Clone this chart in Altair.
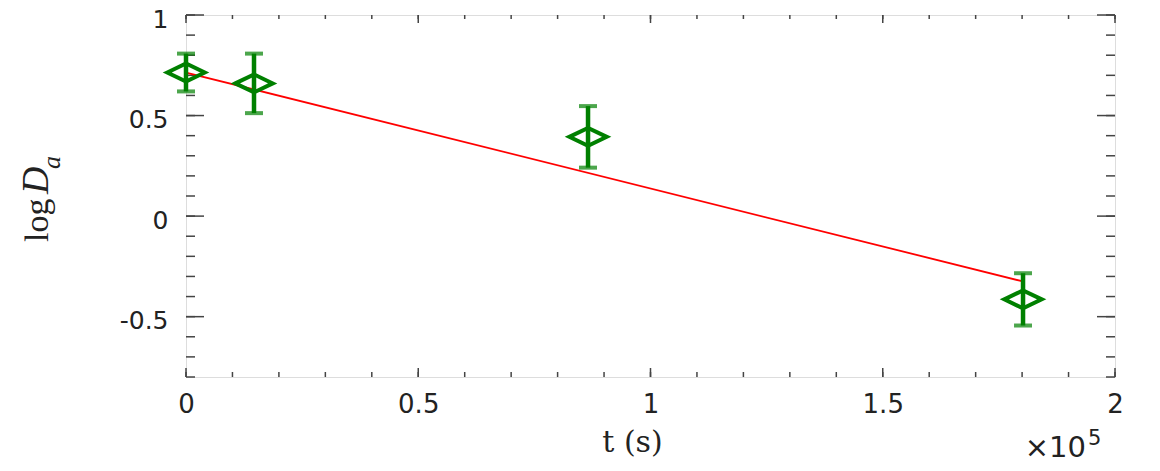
import altair as alt
import pandas as pd

# ---- data ----
t_vals = [0, 14640, 86550, 180200]
logD = [0.714, 0.66, 0.394, -0.414]
err = [0.094, 0.148, 0.153, 0.13]

fit_t = [0, 180200]
fit_y = [0.714, -0.325]

x_major = [0, 50000, 100000, 150000, 200000]
x_major_labels = ["0", "0.5", "1", "1.5", "2"]
x_minor = [0, 10000, 20000, 30000, 40000, 50000, 60000, 70000, 80000, 90000, 100000,
           110000, 120000, 130000, 140000, 150000, 160000, 170000, 180000, 190000, 200000]
y_major = [-0.5, 0, 0.5, 1]
y_major_labels = ["-0.5", "0", "0.5", "1"]
y_minor = [-0.8, -0.7, -0.6, -0.5, -0.4, -0.3, -0.2, -0.1, 0, 0.1, 0.2, 0.3, 0.4,
           0.5, 0.6, 0.7, 0.8, 0.9, 1.0]

W, H = 929, 362
GREEN = "#008000"
AXC = "#444444"

xscale = alt.Scale(domain=[0, 200000], nice=False, zero=False)
yscale = alt.Scale(domain=[-0.8, 1], nice=False, zero=False)

xlab_expr = "%s[indexof(%s, datum.value)]" % (
    "[" + ",".join("'%s'" % s for s in x_major_labels) + "]",
    "[" + ",".join(str(v) for v in x_major) + "]")
ylab_expr = "%s[indexof(%s, datum.value)]" % (
    "[" + ",".join("'%s'" % s for s in y_major_labels) + "]",
    "[" + ",".join(str(v) for v in y_major) + "]")

xax = alt.Axis(values=x_major, labelExpr=xlab_expr, ticks=False, tickSize=0, domain=False,
               grid=False, labelFont="DejaVu Sans", labelFontSize=26, labelColor="#222222",
               labelPadding=14, title="t (s)", titleFont="DejaVu Serif", titleFontSize=30,
               titleFontWeight="normal", titleColor="#222222", titleX=446, titleY=74,
               titleBaseline="alphabetic", titleAlign="center", labelFlush=False)
yax = alt.Axis(values=y_major, labelExpr=ylab_expr, ticks=False, tickSize=0, domain=False,
               grid=False, labelFont="DejaVu Sans", labelFontSize=25, labelColor="#222222",
               labelPadding=18, labelOffset=4, title=None, labelFlush=False)

df = pd.DataFrame({"t": t_vals, "y": logD, "e": err})
df["lo"] = df["y"] - df["e"]
df["hi"] = df["y"] + df["e"]
fit = pd.DataFrame({"t": fit_t, "y": fit_y})

X = lambda f: alt.X(f, type="quantitative", scale=xscale, axis=xax)
Y = lambda f: alt.Y(f, type="quantitative", scale=yscale, axis=yax)

line = alt.Chart(fit).mark_line(color="#ff0000", strokeWidth=1.8).encode(x=X("t"), y=Y("y"))

bars = alt.Chart(df).mark_rule(color=GREEN, strokeWidth=4.5).encode(
    x=X("t"), y=Y("lo"), y2="hi")
cap_lo = alt.Chart(df).mark_tick(color=GREEN, orient="horizontal", size=18, thickness=4).encode(
    x=X("t"), y=Y("lo"))
cap_hi = alt.Chart(df).mark_tick(color=GREEN, orient="horizontal", size=18, thickness=4).encode(
    x=X("t"), y=Y("hi"))
diamond = alt.Chart(df).mark_point(
    shape="M -1 0 L 0 -0.48 L 1 0 L 0 0.48 Z", filled=False, color=GREEN,
    strokeWidth=4, size=1400, opacity=1).encode(x=X("t"), y=Y("y"))

# inward tick marks on all four sides
ymaj = pd.DataFrame({"v": y_major})
ymin = pd.DataFrame({"v": y_minor})
xmaj = pd.DataFrame({"v": x_major})
xmin = pd.DataFrame({"v": x_minor})


def yticks(d, length, side):
    if side == "left":
        xa, xb = 0, length
    else:
        xa, xb = W - length, W
    return alt.Chart(d).mark_rule(color=AXC, strokeWidth=1.5).encode(
        y=Y("v"), x=alt.value(xa), x2=alt.value(xb))


def xticks(d, length, side):
    if side == "bottom":
        ya, yb = H, H - length
    else:
        ya, yb = 0, length
    return alt.Chart(d).mark_rule(color=AXC, strokeWidth=1.5).encode(
        x=X("v"), y=alt.value(ya), y2=alt.value(yb))


ticks = [
    yticks(ymin, 9, "left"), yticks(ymaj, 18, "left"),
    yticks(ymin, 9, "right"), yticks(ymaj, 18, "right"),
    xticks(xmin, 5, "bottom"), xticks(xmaj, 9, "bottom"),
    xticks(xmin, 4, "top"), xticks(xmaj, 8, "top"),
]

one = pd.DataFrame({"a": [0]})


def txt(s, x, y, size, font, style="normal", angle=0, align="left", baseline="alphabetic"):
    kw = dict(text=s, fontSize=size, font=font, fontStyle=style, align=align,
              baseline=baseline, color="#222222")
    if angle:
        kw["angle"] = angle
    return alt.Chart(one).mark_text(**kw).encode(x=alt.value(x), y=alt.value(y))


labels = [
    txt("log", -138, 227, 34, "Liberation Serif", angle=270),
    txt("D", -138, 179, 38, "Liberation Serif", style="italic", angle=270),
    txt("a", -126, 154, 26, "Liberation Serif", style="italic", angle=270),
    txt("\u00d710", 900, 442, 29, "DejaVu Sans", align="right"),
    txt("5", 902, 430, 21, "DejaVu Sans"),
]

chart = alt.layer(*ticks, line, bars, cap_lo, cap_hi, diamond, *labels).properties(
    width=W, height=H,
    autosize=alt.AutoSizeParams(type="none"),
    padding={"left": 178, "top": 7, "right": 37, "bottom": 90},
).configure_view(stroke=AXC, strokeWidth=1.5).configure(background="white")

chart.save("out.html", embed_options={"renderer": "svg", "actions": False})
